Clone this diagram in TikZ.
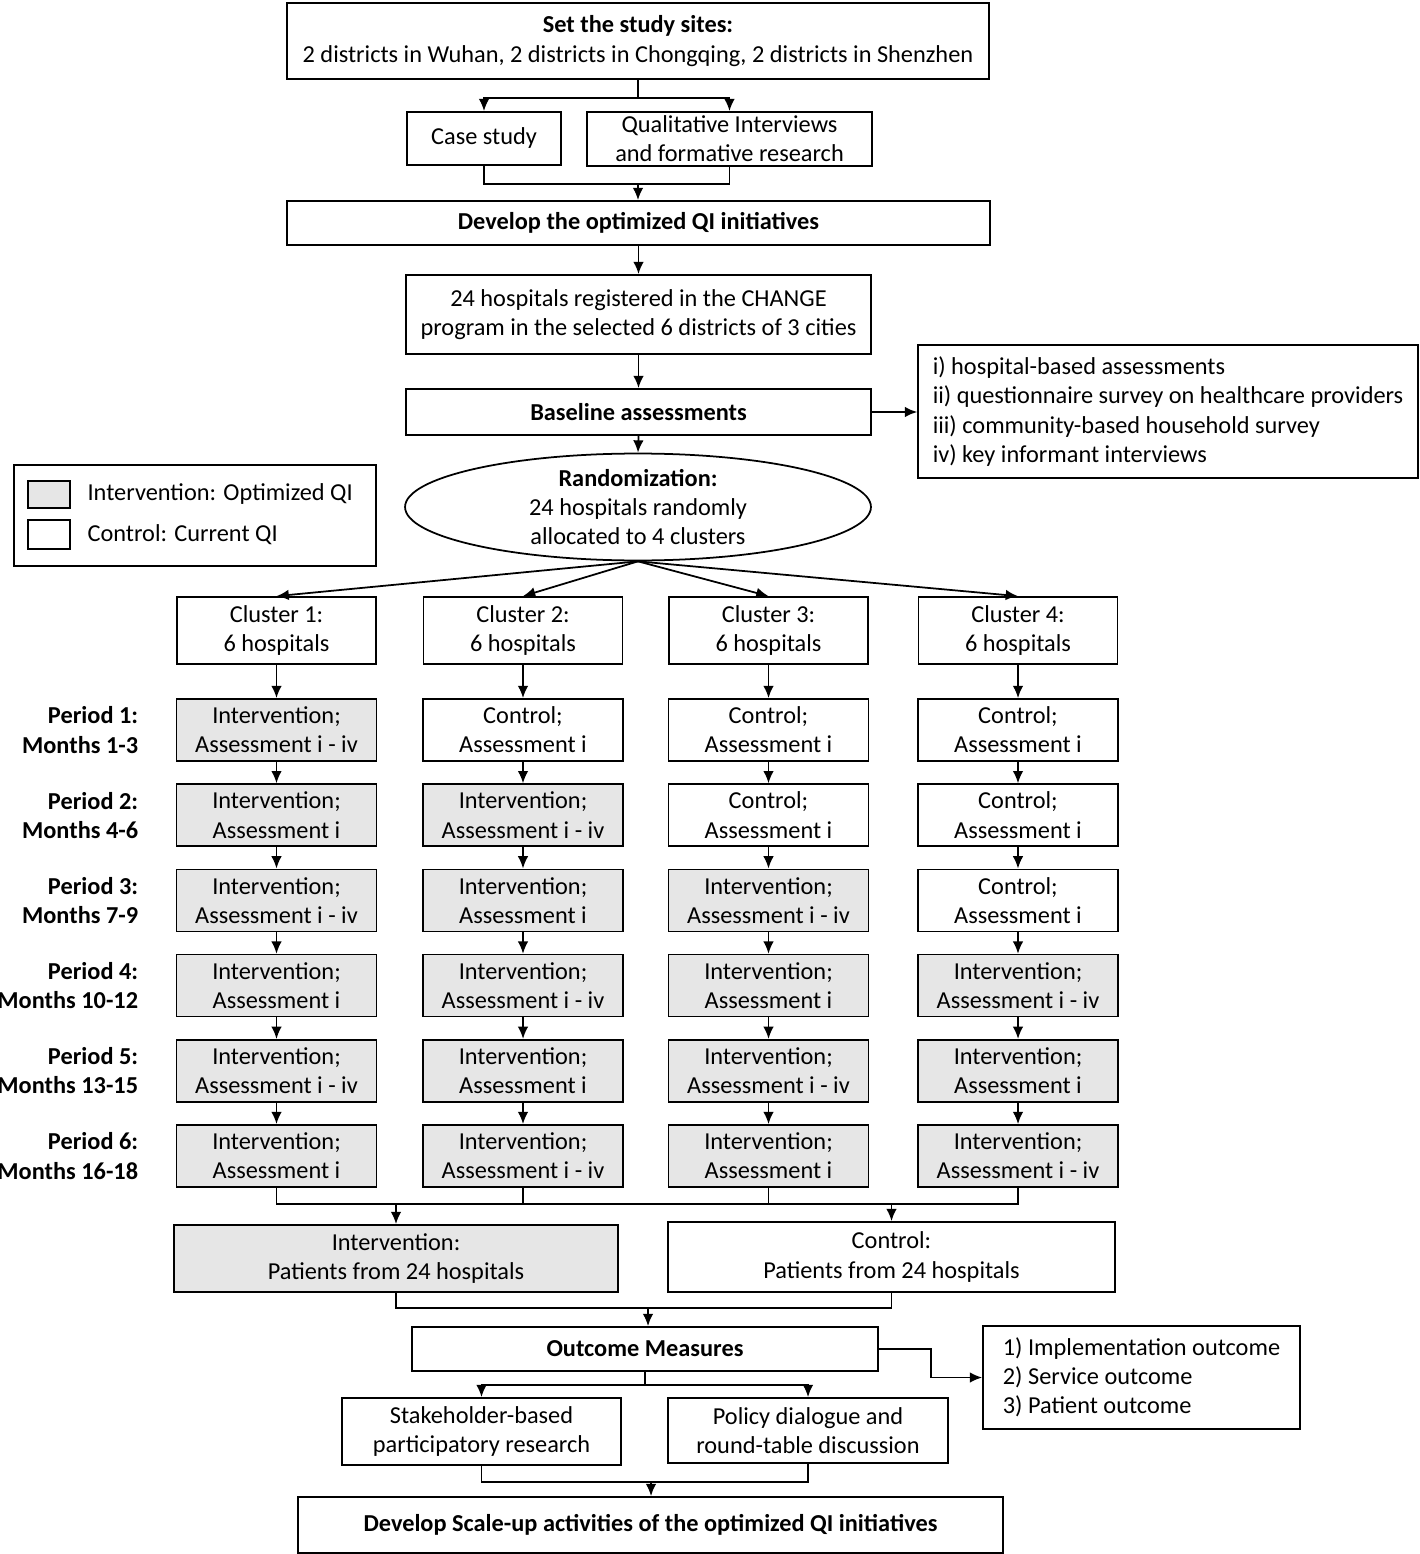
\documentclass[tikz,border=0pt]{standalone}
\usepackage{fontspec}
\setmainfont{Carlito}
\usepackage{tikz}
\usetikzlibrary{arrows, arrows.meta, positioning, calc, shapes}
\definecolor{grisito}{RGB}{230,230,230}
\tikzset{>={Latex[length=7pt,width=6pt]}}
\tikzset{
  box/.style={draw, line width=1pt, align=center, inner sep=2pt},
  Intervention/.style={fill=grisito},
  Control/.style={fill=white},
  cell/.style={box, minimum width=4cm, minimum height=1.24cm}
}

\begin{document}
\begin{tikzpicture}[x=0.02cm, y=-0.02cm, line width=1pt,
  every node/.style={font=\fontsize{13.85}{16.6}\selectfont}]

  \useasboundingbox (0,0) rectangle (1419,1554);

  % top part
  \node[box, minimum width=14.04cm, minimum height=1.52cm] (sites) at (638,41)
    {\textbf{Set the study sites:}\\2 districts in Wuhan, 2 districts in Chongqing, 2 districts in Shenzhen};
  \node[box, minimum width=3.08cm, minimum height=1.06cm] (case) at (484,138.5) {Case study};
  \node[box, minimum width=5.7cm, minimum height=1.08cm] (qual) at (729.5,139)
    {Qualitative Interviews\\and formative research};
  \node[box, minimum width=14.06cm, minimum height=0.88cm] (develop) at (638.5,223)
    {\textbf{Develop the optimized QI initiatives}};
  \node[box, minimum width=9.3cm, minimum height=1.58cm] (hosp) at (638.5,314.5)
    {24 hospitals registered in the CHANGE\\program in the selected 6 districts of 3 cities};
  \node[box, minimum width=9.3cm, minimum height=0.92cm] (base) at (638.5,412)
    {\textbf{Baseline assessments}};
  \node[box, minimum width=10cm, minimum height=2.66cm, align=left] (alist) at (1168,411.5)
    {i) hospital-based assessments\\ii) questionnaire survey on healthcare providers\\iii) community-based household survey\\iv) key informant interviews};
  \node[box, ellipse, inner sep=0pt, minimum width=9.32cm, minimum height=2.02cm] (rand) at (638,507)
    {\textbf{Randomization:}\\24 hospitals randomly\\allocated to 4 clusters};

  % legend
  \node[box, minimum width=7.24cm, minimum height=2.02cm] (legend) at (195,515.5) {};
  \node[box, Intervention, minimum width=0.84cm, minimum height=0.54cm] (swint) at (49,494.5) {};
  \node[box, minimum width=0.84cm, minimum height=0.58cm] (swctl) at (49,534.5) {};
  \node[right=0.2cm of swint] (lint) {Intervention: Optimized QI};
  \node[right=0.2cm of swctl] (lctl) {Control: Current QI};

  \draw[->] (sites.south) -- ++(0,18) -| (case.north);
  \draw[->] (sites.south) -- ++(0,18) -| (qual.north);
  \coordinate (m1) at (638,184);
  \draw (case.south) |- (m1) -| (qual.south);
  \draw[->] (m1) -- (m1 |- develop.north);
  \draw[->] (develop.south) -- (hosp.north);
  \draw[->] (hosp.south) -- (base.north);
  \draw[->] (base.east) -- (alist.west |- base.east);
  \draw[->] (base.south) -- (rand.north);

  % clusters
  \foreach \c/\x in {1/276.5, 2/523, 3/768.5, 4/1018} {
    \node[box, minimum width=3.98cm, minimum height=1.34cm] (cl\c) at (\x,630.5)
      {Cluster \c:\\6 hospitals};
    \draw[->] (rand.south) -- (cl\c.north);
  }

  % periods
  \foreach \r/\mo in {1/1-3, 2/4-6, 3/7-9, 4/10-12, 5/13-15, 6/16-18} {
    \pgfmathsetmacro{\yy}{730+85.2*(\r-1)}
    \node[anchor=east, align=right, inner sep=0pt] (per\r) at (139,\yy) {\textbf{Period \r:}\\\textbf{Months \mo}};
  }

  \foreach \r/\c/\kind/\asm in {
    1/1/Intervention/i - iv, 1/2/Control/i, 1/3/Control/i, 1/4/Control/i,
    2/1/Intervention/i, 2/2/Intervention/i - iv, 2/3/Control/i, 2/4/Control/i,
    3/1/Intervention/i - iv, 3/2/Intervention/i, 3/3/Intervention/i - iv, 3/4/Control/i,
    4/1/Intervention/i, 4/2/Intervention/i - iv, 4/3/Intervention/i, 4/4/Intervention/i - iv,
    5/1/Intervention/i - iv, 5/2/Intervention/i, 5/3/Intervention/i - iv, 5/4/Intervention/i,
    6/1/Intervention/i, 6/2/Intervention/i - iv, 6/3/Intervention/i, 6/4/Intervention/i - iv} {
    \node[cell, \kind] (p\r\c) at (cl\c |- per\r) {\kind;\\Assessment \asm};
  }

  \foreach \c in {1,...,4} {
    \draw[->] (cl\c.south) -- (p1\c.north);
    \foreach \r [count=\s from 2] in {1,...,5}
      \draw[->] (p\r\c.south) -- (p\s\c.north);
  }

  % patients
  \node[box, Intervention, minimum width=8.88cm, minimum height=1.34cm] (ipat) at (396,1258.5)
    {Intervention:\\Patients from 24 hospitals};
  \node[box, minimum width=8.94cm, minimum height=1.4cm] (cpat) at (891.5,1257)
    {Control:\\Patients from 24 hospitals};

  \coordinate (m3) at (0,1204);
  \draw (p61.south) |- (m3 -| p64.south) -- (p64.south);
  \draw (p62.south) -- (p62.south |- m3);
  \draw (p63.south) -- (p63.south |- m3);
  \draw[->] (ipat.north |- m3) -- (ipat.north);
  \draw[->] (cpat.north |- m3) -- (cpat.north);

  % outcomes
  \node[box, minimum width=9.32cm, minimum height=0.88cm] (outc) at (645,1349)
    {\textbf{Outcome Measures}};
  \node[box, minimum width=6.34cm, minimum height=2.06cm, align=left] (olist) at (1141.5,1377.5)
    {1) Implementation outcome\\2) Service outcome\\3) Patient outcome};
  \node[box, minimum width=5.58cm, minimum height=1.34cm] (stake) at (481.5,1431.5)
    {Stakeholder-based\\participatory research};
  \node[box, minimum width=5.6cm, minimum height=1.3cm] (policy) at (808,1430.5)
    {Policy dialogue and\\round-table discussion};
  \node[box, minimum width=14.1cm, minimum height=1.12cm] (scale) at (650.5,1525)
    {\textbf{Develop Scale-up activities of the optimized QI initiatives}};

  \coordinate (m4) at (648,1308);
  \draw (ipat.south) |- (m4) -| (cpat.south);
  \draw[->] (m4) -- (m4 |- outc.north);
  \draw[->] (outc.east) -- ++(52,0) |- (olist.west);
  \coordinate (m5) at (645,1385);
  \draw (outc.south) -- (m5);
  \draw[->] (m5) -| (stake.north);
  \draw[->] (m5) -| (policy.north);
  \coordinate (m6) at (651,1482);
  \draw (stake.south) |- (m6) -| (policy.south);
  \draw[->] (m6) -- (m6 |- scale.north);

\end{tikzpicture}
\end{document}
